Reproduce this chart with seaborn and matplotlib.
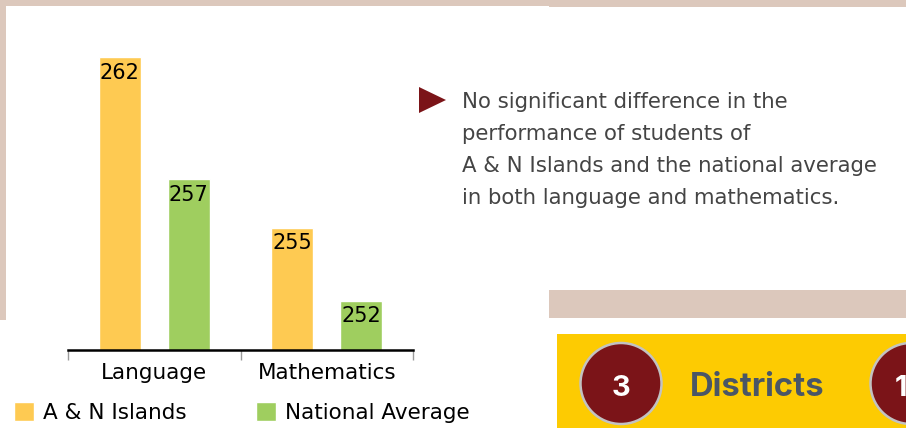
import numpy as np
import pandas as pd
import matplotlib
matplotlib.use('Agg')
import matplotlib.pyplot as plt
from matplotlib.patches import Rectangle, Circle, Polygon
import seaborn as sns

# ================= DADOS =================
subjects = ['Language', 'Mathematics']
groups = ['A & N Islands', 'National Average']
an_islands = [262, 255]
national_avg = [257, 252]

note_lines = ['No significant difference in the',
              'performance of students of',
              'A & N Islands and the national average',
              'in both language and mathematics.']
badge_numbers = ['3', '10']
badge_label = 'Districts'

# ================= ESTILO =================
YELLOW = '#FECA52'
GREEN = '#9FCE5F'
BEIGE = '#DCC8BC'
MAROON = '#7B1418'
GOLD = '#FDCB02'
SLATE = '#4A5666'

W, H = 906, 428
PX_PER_UNIT = 24.36   # escala vertical
Y0 = 250              # base do eixo

df = pd.DataFrame({
    'subject': subjects * 2,
    'group': [groups[0]] * len(subjects) + [groups[1]] * len(subjects),
    'score': an_islands + national_avg,
})

sns.set_style('white')
plt.rcParams['font.family'] = ['DejaVu Sans']

fig = plt.figure(figsize=(W / 100, H / 100), dpi=100)

# --- fundo / moldura (coordenadas em pixels) ---
bg = fig.add_axes([0, 0, 1, 1], zorder=0)
bg.set_xlim(0, W)
bg.set_ylim(H, 0)
bg.axis('off')

bg.add_patch(Rectangle((0, 0), 549, 6, color=BEIGE, lw=0))
bg.add_patch(Rectangle((549, 0), W - 549, 7, color=BEIGE, lw=0))
bg.add_patch(Rectangle((0, 0), 6, 320, color=BEIGE, lw=0))
bg.add_patch(Rectangle((549, 290), W - 549, 28, color=BEIGE, lw=0))
bg.add_patch(Rectangle((557, 334), W - 557, H - 334, color=GOLD, lw=0))

# o segundo círculo fica cortado na borda, como no original
for cx, num in zip([621, 911], badge_numbers):
    bg.add_patch(Circle((cx, 383.5), 40.5, facecolor=MAROON, edgecolor='#C2C2C2', lw=1.8))
    bg.text(cx, 396, num, ha='center', va='baseline', color='white',
            fontsize=21, fontweight='bold', family=['Inter', 'DejaVu Sans'])
bg.text(690, 396.5, badge_label, ha='left', va='baseline', color=SLATE,
        fontsize=23.6, fontweight='bold', family=['Inter', 'DejaVu Sans'])

# seta + texto de observação
bg.add_patch(Polygon([(419, 87), (419, 113), (446, 100)], closed=True, color=MAROON, lw=0))
for i, line in enumerate(note_lines):
    bg.text(462, 108.3 + i * 31.9, line, ha='left', va='baseline',
            color='#444444', fontsize=15.3)

# --- gráfico de barras ---
ax = fig.add_axes([68 / W, (H - 349.5) / H, 345 / W, 339.5 / H], zorder=1)
ax.patch.set_alpha(0)

sns.barplot(data=df, x='subject', y='score', hue='group', palette=[YELLOW, GREEN],
            saturation=1, width=0.8, gap=0.39, errorbar=None, ax=ax)

ax.set_xlim(-0.5, 1.5)
ax.set_ylim(Y0, Y0 + 339.5 / PX_PER_UNIT)

for cont in ax.containers:
    for bar, val in zip(cont, cont.datavalues):
        ax.annotate(f'{val:.0f}', (bar.get_x() + bar.get_width() / 2, val),
                    xytext=(0, -15.6), textcoords='offset points',
                    ha='center', va='baseline', fontsize=15, color='black')

sns.despine(ax=ax, left=True)
ax.spines['bottom'].set_color('black')
ax.spines['bottom'].set_linewidth(1.8)
ax.set_yticks([])
ax.set_xlabel('')
ax.set_ylabel('')
ax.tick_params(axis='x', which='major', length=0, pad=9.4, labelsize=15.5,
               labelcolor='black')
ax.set_xticks([-0.5, 0.5, 1.5], minor=True)
ax.tick_params(axis='x', which='minor', bottom=True, length=7.5, width=1,
               color='#9A9A9A', direction='out')

sns.move_legend(ax, 'upper left', bbox_to_anchor=(14 / W, 1 - 402 / H),
                bbox_transform=fig.transFigure, ncol=2, frameon=False, title=None,
                fontsize=15.5, handlelength=0.95, handleheight=0.95,
                handletextpad=0.4, columnspacing=3.2, borderpad=0, borderaxespad=0)
for t in ax.get_legend().get_texts():
    t.set_color('black')

fig.savefig('out.png', dpi=100)
